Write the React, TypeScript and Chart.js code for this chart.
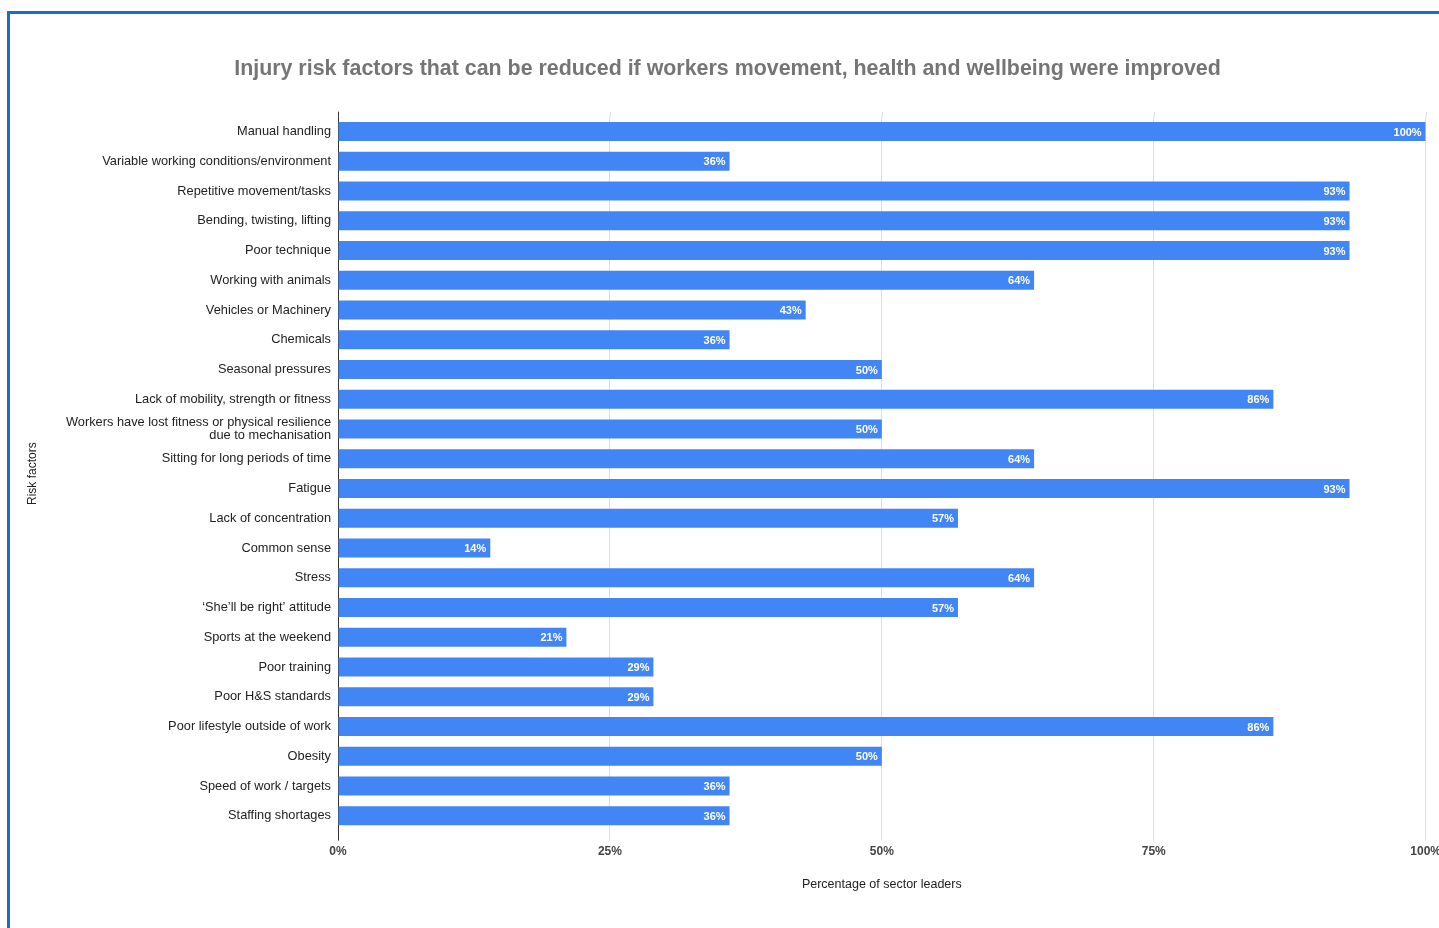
import React, { useEffect, useRef } from "react";
import { Chart, registerables } from "chart.js";

Chart.register(...registerables);

const chartTitle = "Injury risk factors that can be reduced if workers movement, health and wellbeing were improved";
const xAxisTitle = "Percentage of sector leaders";
const yAxisTitle = "Risk factors";

const categories: (string | string[])[] = [
  "Manual handling",
  "Variable working conditions/environment",
  "Repetitive movement/tasks",
  "Bending, twisting, lifting",
  "Poor technique",
  "Working with animals",
  "Vehicles or Machinery",
  "Chemicals",
  "Seasonal pressures",
  "Lack of mobility, strength or fitness",
  ["Workers have lost fitness or physical resilience", "due to mechanisation"],
  "Sitting for long periods of time",
  "Fatigue",
  "Lack of concentration",
  "Common sense",
  "Stress",
  "\u2018She\u2019ll be right\u2019 attitude",
  "Sports at the weekend",
  "Poor training",
  "Poor H&S standards",
  "Poor lifestyle outside of work",
  "Obesity",
  "Speed of work / targets",
  "Staffing shortages",
];

const values: number[] = [
  100, 36, 93, 93, 93, 64, 43, 36, 50, 86, 50, 64, 93, 57, 14, 64, 57, 21, 29, 29, 86, 50, 36, 36,
];

const xTickValues: number[] = [0, 25, 50, 75, 100];

const FONT = "Arial, 'Liberation Sans', Helvetica, sans-serif";
const BAR_COLOR = "#4285f4";

const extrasPlugin = {
  id: "extras",
  beforeDatasetsDraw(chart: any) {
    const { ctx, chartArea, scales } = chart;
    const x = scales.x;
    ctx.save();
    xTickValues.forEach((v, i) => {
      const px = Math.round(x.getPixelForValue(v)) + 0.5;
      ctx.strokeStyle = i === 0 ? "#333333" : "#dddddd";
      ctx.lineWidth = 1;
      ctx.beginPath();
      ctx.moveTo(px, chartArea.top - 5);
      ctx.lineTo(px, chartArea.top);
      ctx.stroke();
    });
    ctx.restore();
  },
  afterDatasetsDraw(chart: any) {
    const { ctx } = chart;
    const meta = chart.getDatasetMeta(0);
    ctx.save();
    ctx.font = `bold 11px ${FONT}`;
    ctx.fillStyle = "#ffffff";
    ctx.textAlign = "right";
    ctx.textBaseline = "middle";
    meta.data.forEach((bar: any, i: number) => {
      ctx.fillText(`${values[i]}%`, bar.x - 4, bar.y + 1);
    });
    ctx.restore();
  },
};

export default function App() {
  const canvasRef = useRef<HTMLCanvasElement | null>(null);

  useEffect(() => {
    if (!canvasRef.current) return;
    const chart = new Chart(canvasRef.current, {
      type: "bar",
      data: {
        labels: categories,
        datasets: [
          {
            data: values,
            backgroundColor: BAR_COLOR,
            borderWidth: 0,
            categoryPercentage: 1,
            barPercentage: 0.64,
          },
        ],
      },
      options: {
        indexAxis: "y",
        animation: false,
        responsive: false,
        maintainAspectRatio: false,
        layout: { padding: { left: 0, right: 0, top: 0, bottom: 18 } },
        plugins: {
          legend: { display: false },
          tooltip: { enabled: false },
          title: {
            display: true,
            text: chartTitle,
            color: "#757575",
            font: { family: FONT, size: 21.4, weight: "bold" },
            padding: { top: 42, bottom: 35 },
          },
        },
        scales: {
          x: {
            type: "linear",
            min: 0,
            max: 100,
            afterBuildTicks: (scale: any) => {
              scale.ticks = xTickValues.map((v) => ({ value: v }));
            },
            ticks: {
              color: "#444444",
              font: { family: FONT, size: 12, weight: "bold" },
              padding: 4,
              callback: (v: any) => `${v}%`,
              maxRotation: 0,
            },
            grid: {
              color: (c: any) => (c.index === 0 ? "#333333" : "#dddddd"),
              tickLength: 10,
              drawOnChartArea: true,
            },
            border: { display: false },
            title: {
              display: true,
              text: xAxisTitle,
              color: "#222222",
              font: { family: FONT, size: 12.5 },
              padding: { top: 14, bottom: 4 },
            },
          },
          y: {
            type: "category",
            offset: true,
            afterFit: (scale: any) => {
              scale.width = 328;
            },
            ticks: {
              color: "#222222",
              font: { family: FONT, size: 12.8, lineHeight: 1.02 },
              padding: 7,
              autoSkip: false,
            },
            grid: { display: false, drawTicks: false },
            border: { display: false },
            title: {
              display: true,
              text: yAxisTitle,
              color: "#222222",
              font: { family: FONT, size: 12 },
              padding: { top: 15, bottom: 0 },
            },
          },
        },
      },
      plugins: [extrasPlugin],
    } as any);
    return () => chart.destroy();
  }, []);

  return (
    <div
      style={{
        position: "absolute",
        left: 0,
        top: 0,
        width: 1439,
        height: 928,
        overflow: "hidden",
        background: "#ffffff",
      }}
    >
      <div
        style={{
          position: "absolute",
          left: 7,
          top: 11,
          width: 2000,
          height: 2000,
          borderLeft: "3px solid #1a6fc4",
          borderTop: "3px solid #1a6fc4",
        }}
      />
      <canvas
        ref={canvasRef}
        width={1435}
        height={900}
        style={{ position: "absolute", left: 10, top: 14, width: 1435, height: 900 }}
      />
    </div>
  );
}
